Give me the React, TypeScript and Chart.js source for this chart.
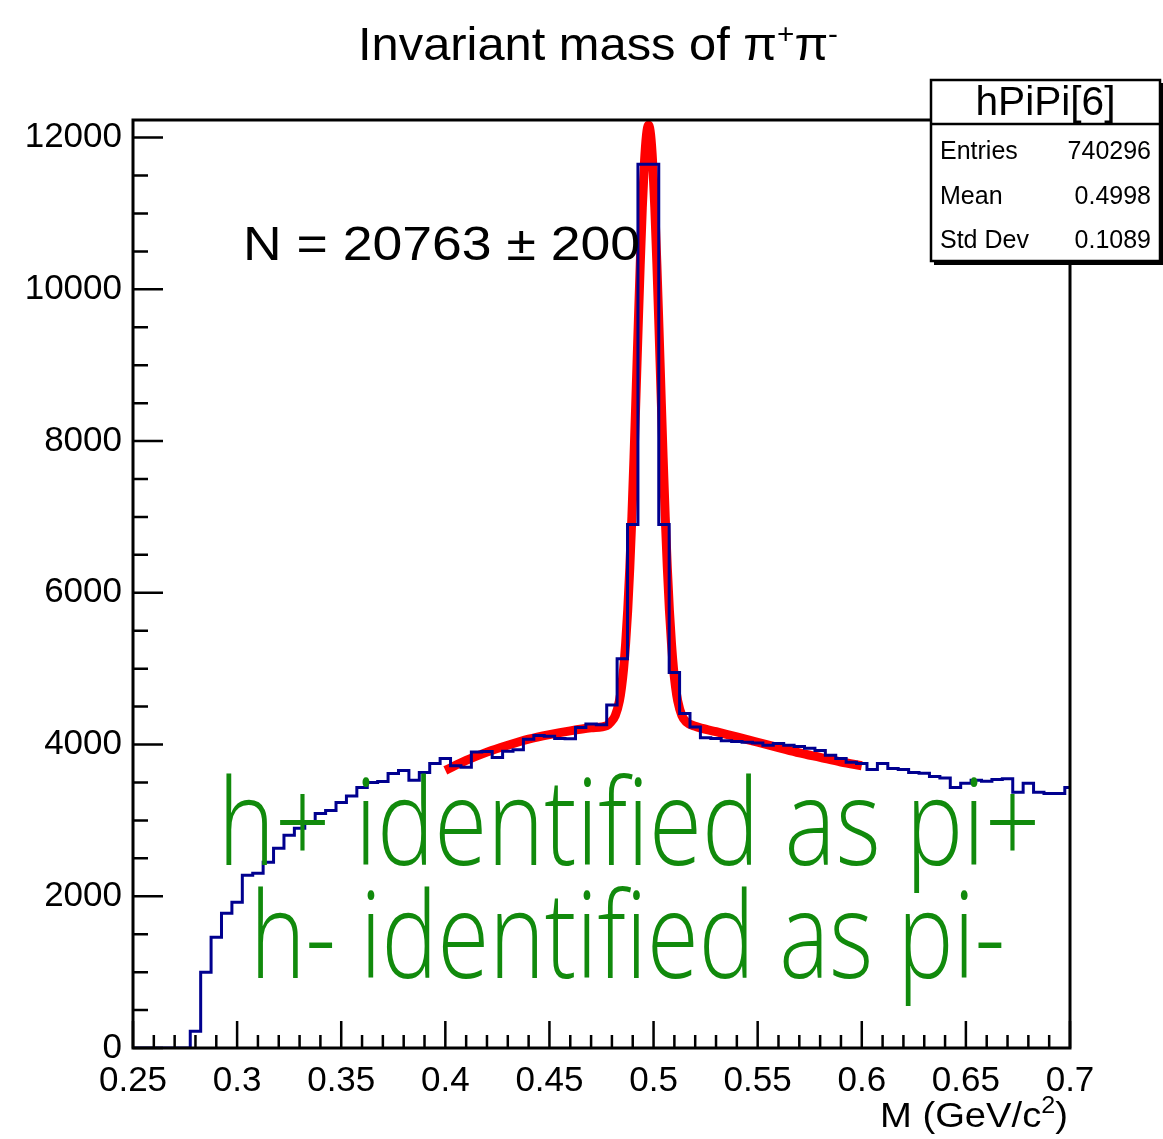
import React, { useEffect, useRef } from 'react';
import { Chart, registerables } from 'chart.js';

Chart.register(...registerables);

// ---------------- data ----------------
const HIST_LOW_EDGE = 0.2475; // low edge of the first bin (bins centred on 0.25, 0.255, ...)
const BIN_WIDTH = 0.005;
const COUNTS = [
  0, 0, 0, 0, 0, 0, 220, 1000, 1460, 1777,
  1921, 2277, 2303, 2448, 2632, 2803, 2895, 2974, 3090, 3130,
  3237, 3320, 3435, 3500, 3514, 3619, 3658, 3530, 3630, 3750,
  3816, 3720, 3700, 3900, 3908, 3830, 3910, 3930, 4070, 4120,
  4110, 4080, 4075, 4225, 4270, 4260, 4520, 5130, 6900, 11650,
  11650, 6900, 4950, 4410, 4230, 4090, 4080, 4050, 4040, 4030,
  4020, 3990, 4015, 3990, 3975, 3950, 3920, 3860, 3815, 3765,
  3750, 3670, 3750, 3685, 3670, 3630, 3620, 3580, 3560, 3435,
  3490, 3530, 3515, 3540, 3550, 3370, 3490, 3370, 3355, 3355,
  3435,
];

const FIT_X = [
  0.4, 0.41, 0.42, 0.43, 0.44, 0.45, 0.46, 0.47, 0.4776, 0.4796,
  0.4816, 0.4836, 0.4846, 0.4856, 0.4866, 0.4876, 0.4886, 0.4896, 0.4906, 0.4916,
  0.4926, 0.4936, 0.4946, 0.4956, 0.4966, 0.4976, 0.4986, 0.4996, 0.5006, 0.5016,
  0.5026, 0.5036, 0.5046, 0.5056, 0.5066, 0.5076, 0.5086, 0.5096, 0.5106, 0.5116,
  0.5136, 0.5156, 0.52, 0.53, 0.54, 0.55, 0.56, 0.57, 0.58, 0.59,
  0.6,
];
const FIT_Y = [
  3660, 3790, 3900, 3990, 4070, 4130, 4180, 4220, 4250, 4300,
  4380, 4575, 4750, 4995, 5335, 5775, 6335, 7005, 7780, 8625,
  9495, 10330, 11075, 11660, 12035, 12165, 12035, 11660, 11075, 10330,
  9495, 8625, 7780, 7005, 6335, 5775, 5335, 4995, 4750, 4575,
  4380, 4300, 4240, 4170, 4100, 4030, 3960, 3890, 3830, 3770,
  3720,
];

const X_MIN = 0.25;
const X_MAX = 0.7;
const Y_MIN = 0;
const Y_MAX = 12232;
const X_TICKS = [0.25, 0.3, 0.35, 0.4, 0.45, 0.5, 0.55, 0.6, 0.65, 0.7];
const X_TICK_LABELS = ['0.25', '0.3', '0.35', '0.4', '0.45', '0.5', '0.55', '0.6', '0.65', '0.7'];
const Y_TICKS = [0, 2000, 4000, 6000, 8000, 10000, 12000];
const Y_TICK_LABELS = ['0', '2000', '4000', '6000', '8000', '10000', '12000'];
const X_MINOR_STEP = 0.01;
const Y_MINOR_STEP = 500;

const TITLE_PARTS = [
  { t: 'Invariant mass of π', sup: false },
  { t: '+', sup: true },
  { t: 'π', sup: false },
  { t: '-', sup: true },
];
const X_TITLE_PARTS = [
  { t: 'M (GeV/c', sup: false },
  { t: '2', sup: true },
  { t: ')', sup: false },
];
const STATS_NAME = 'hPiPi[6]';
const STATS_LABELS = ['Entries', 'Mean', 'Std Dev'];
const STATS_VALUES = ['740296', '0.4998', '0.1089'];
const FIT_LABEL = 'N = 20763 ± 200';
const NOTES = ['h+ identified as pi+', 'h- identified as pi-'];

// ---------------- styles ----------------
const FONT = "'Liberation Sans', Arial, Helvetica, sans-serif";
const NOTE_FONT = "'Open Sans', 'Liberation Sans', sans-serif";
const HIST_COLOR = '#00008f';
const FIT_COLOR = '#ff0000';
const NOTE_COLOR = '#118a0c';

type Part = { t: string; sup: boolean };

function drawParts(
  ctx: CanvasRenderingContext2D,
  parts: Part[],
  x: number,
  y: number,
  size: number,
  supSize: number,
  rise: number,
  align: 'center' | 'right' | 'left',
  targetWidth: number,
) {
  const widths = parts.map((p) => {
    ctx.font = `${p.sup ? supSize : size}px ${FONT}`;
    return ctx.measureText(p.t).width;
  });
  const total = widths.reduce((a, b) => a + b, 0);
  const k = targetWidth / total;
  const start = align === 'center' ? x - targetWidth / 2 : align === 'right' ? x - targetWidth : x;
  ctx.save();
  ctx.translate(start, y);
  ctx.scale(k, 1);
  ctx.textAlign = 'left';
  ctx.textBaseline = 'alphabetic';
  let cx = 0;
  parts.forEach((p, i) => {
    ctx.font = `${p.sup ? supSize : size}px ${FONT}`;
    ctx.fillText(p.t, cx, p.sup ? -rise : 0);
    cx += widths[i];
  });
  ctx.restore();
}

const framePlugin = {
  id: 'rootFrame',
  afterDatasetsDraw(chart: any) {
    const { ctx, chartArea: a, scales } = chart;
    const xs = scales.x;
    const ys = scales.y;
    ctx.save();
    ctx.strokeStyle = '#000';
    ctx.lineWidth = 2.5;
    ctx.beginPath();
    const nx = Math.round((X_MAX - X_MIN) / X_MINOR_STEP);
    for (let i = 0; i <= nx; i++) {
      const v = X_MIN + i * X_MINOR_STEP;
      const major = X_TICKS.some((t) => Math.abs(t - v) < 1e-6);
      const px = xs.getPixelForValue(v);
      ctx.moveTo(px, a.bottom);
      ctx.lineTo(px, a.bottom - (major ? 27 : 13));
    }
    for (let v = Y_MIN; v <= Y_MAX; v += Y_MINOR_STEP) {
      const major = Y_TICKS.includes(v);
      const py = ys.getPixelForValue(v);
      ctx.moveTo(a.left, py);
      ctx.lineTo(a.left + (major ? 30 : 15), py);
    }
    ctx.stroke();
    ctx.lineWidth = 3;
    ctx.strokeRect(a.left, a.top, a.right - a.left, a.bottom - a.top);
    ctx.restore();
  },
  afterDraw(chart: any) {
    const { ctx } = chart;
    ctx.save();
    ctx.fillStyle = '#000';
    // title
    drawParts(ctx, TITLE_PARTS, 598, 60, 46, 28, 17, 'center', 480);
    // axis title
    drawParts(ctx, X_TITLE_PARTS, 1068, 1127, 35, 23, 14, 'right', 188);
    // fit label
    drawParts(ctx, [{ t: FIT_LABEL, sup: false }], 243, 260, 49, 49, 0, 'left', 397);

    // green notes
    const noteSpec = [
      { left: 218, right: 1040, base: 865 },
      { left: 250, right: 1005, base: 978 },
    ];
    ctx.fillStyle = NOTE_COLOR;
    ctx.font = `300 120px ${NOTE_FONT}`;
    NOTES.forEach((n, i) => {
      const s = noteSpec[i];
      const w = ctx.measureText(n).width;
      const k = (s.right - s.left) / w;
      ctx.save();
      ctx.translate(s.left, s.base);
      ctx.scale(k, 1);
      ctx.textAlign = 'left';
      ctx.textBaseline = 'alphabetic';
      ctx.fillText(n, 0, 0);
      ctx.restore();
    });

    // stats box
    const bx = 931, by = 80, bw = 229, bh = 181, hh = 44;
    ctx.fillStyle = '#fff';
    ctx.fillRect(bx, by, bw, bh);
    ctx.fillStyle = '#000';
    ctx.fillRect(bx + 3, by + bh, bw, 4);
    ctx.fillRect(bx + bw, by + 3, 4, bh);
    ctx.strokeStyle = '#000';
    ctx.lineWidth = 2.5;
    ctx.strokeRect(bx, by, bw, bh);
    ctx.beginPath();
    ctx.moveTo(bx, by + hh);
    ctx.lineTo(bx + bw, by + hh);
    ctx.stroke();
    drawParts(ctx, [{ t: STATS_NAME, sup: false }], bx + bw / 2, 115, 40, 40, 0, 'center', 140);
    ctx.font = `25px ${FONT}`;
    ctx.textBaseline = 'middle';
    const rowsY = [152, 197, 241];
    STATS_LABELS.forEach((l, i) => {
      ctx.textAlign = 'left';
      ctx.fillText(l, 940, rowsY[i]);
      ctx.textAlign = 'right';
      ctx.fillText(STATS_VALUES[i], 1151, rowsY[i]);
    });
    ctx.restore();
  },
};

export default function App() {
  const ref = useRef<HTMLCanvasElement | null>(null);
  useEffect(() => {
    const canvas = ref.current;
    if (!canvas) return;
    const histPoints = COUNTS.map((c, i) => ({ x: HIST_LOW_EDGE + i * BIN_WIDTH, y: c }));
    histPoints.push({ x: HIST_LOW_EDGE + COUNTS.length * BIN_WIDTH, y: COUNTS[COUNTS.length - 1] });
    const fitPoints = FIT_X.map((x, i) => ({ x, y: FIT_Y[i] }));
    const chart = new Chart(canvas, {
      type: 'line',
      data: {
        datasets: [
          {
            data: histPoints,
            borderColor: HIST_COLOR,
            borderWidth: 3,
            pointRadius: 0,
            stepped: 'before',
            fill: false,
          },
          {
            data: fitPoints,
            borderColor: FIT_COLOR,
            borderWidth: 9,
            pointRadius: 0,
            cubicInterpolationMode: 'monotone',
            fill: false,
            borderCapStyle: 'butt',
            borderJoinStyle: 'round',
          },
        ],
      },
      options: {
        animation: false,
        responsive: true,
        maintainAspectRatio: false,
        devicePixelRatio: 1,
        layout: { padding: { top: 120, right: 93, left: 0, bottom: 0 } },
        plugins: { legend: { display: false }, tooltip: { enabled: false }, title: { display: false } },
        scales: {
          x: {
            type: 'linear',
            min: X_MIN,
            max: X_MAX,
            grid: { display: false, drawTicks: false },
            border: { display: false },
            afterBuildTicks: (s: any) => {
              s.ticks = X_TICKS.map((v) => ({ value: v }));
            },
            afterFit: (s: any) => {
              s.height = 91;
            },
            ticks: {
              autoSkip: false,
              maxRotation: 0,
              minRotation: 0,
              padding: 12,
              color: '#000',
              font: { family: FONT, size: 35 },
              callback: (v: any, i: number) => X_TICK_LABELS[i],
            },
          },
          y: {
            type: 'linear',
            min: Y_MIN,
            max: Y_MAX,
            grid: { display: false, drawTicks: false },
            border: { display: false },
            afterBuildTicks: (s: any) => {
              s.ticks = Y_TICKS.map((v) => ({ value: v }));
            },
            afterFit: (s: any) => {
              s.width = 133;
            },
            ticks: {
              autoSkip: false,
              padding: 11,
              color: '#000',
              font: { family: FONT, size: 35 },
              callback: (v: any, i: number) => Y_TICK_LABELS[i],
            },
          },
        },
      },
      plugins: [framePlugin],
    });
    return () => chart.destroy();
  }, []);
  return (
    <div style={{ position: 'fixed', left: 0, top: 0, width: 1163, height: 1139, background: '#fff' }}>
      <canvas ref={ref} width={1163} height={1139} />
    </div>
  );
}
